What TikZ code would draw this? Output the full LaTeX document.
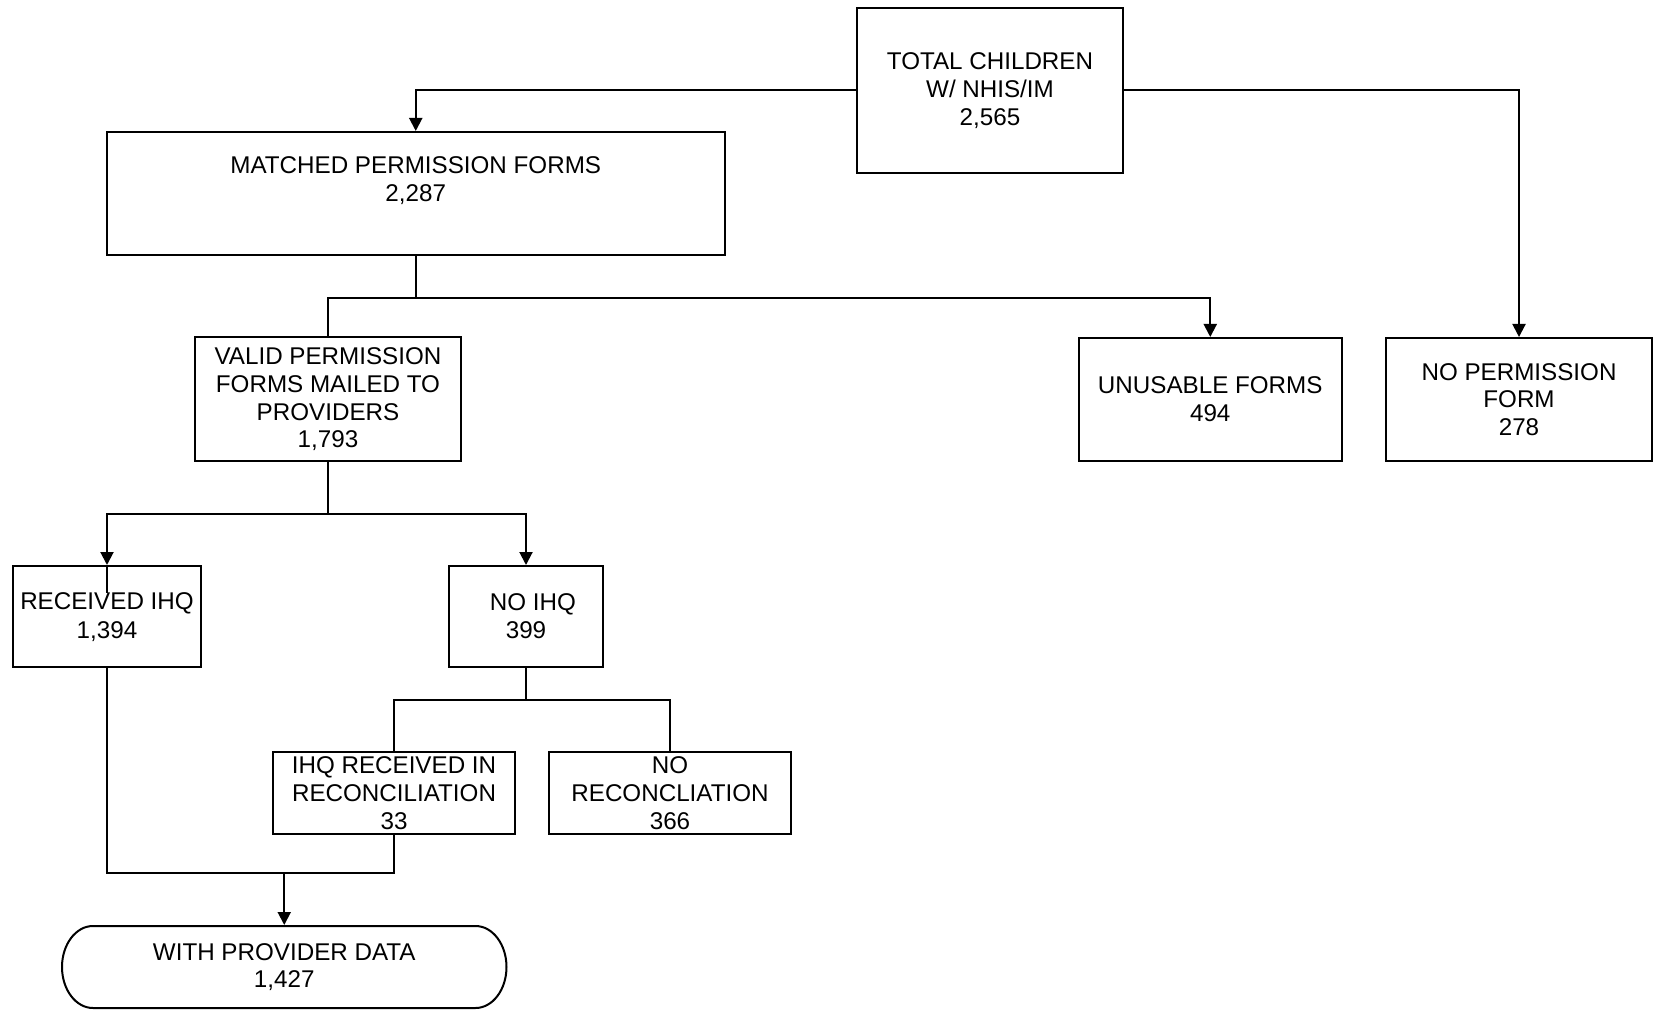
\documentclass[tikz,border=0pt]{standalone}
\usepackage{fontspec}
\setmainfont{Liberation Sans}
\usetikzlibrary{arrows.meta}
\begin{document}
\begin{tikzpicture}[x=0.5pt,y=-0.5pt,
  line width=1pt,
  box/.style 2 args={draw, line width=1pt, inner sep=0pt, align=center,
    font=\fontsize{12.1}{13.9}\selectfont,
    minimum width=#1*0.5pt, minimum height=#2*0.5pt},
  lbl/.style={align=center, inner sep=0pt, font=\fontsize{12.1}{13.9}\selectfont},
  arr/.style={-{Triangle[length=6.5pt,width=6.5pt]}},
  ln/.style={line width=1pt}]
\useasboundingbox (0,0) rectangle (1653,1010);

% boxes
\node[box={266}{165}] (total) at (990,90.5) {TOTAL CHILDREN\\W/ NHIS/IM\\2,565};
\node[box={618.5}{123}] (matched) at (415.75,193.5) {};
\node[lbl] (matchedtxt) at (415.75,181) {MATCHED PERMISSION FORMS\\2,287};
\node[box={266}{123.5}] (valid) at (328,399.25) {VALID PERMISSION\\FORMS MAILED TO\\PROVIDERS\\1,793};
\node[box={263.5}{123}] (unusable) at (1210.25,399.5) {UNUSABLE FORMS\\494};
\node[box={266}{123}] (noperm) at (1519,399.5) {NO PERMISSION\\FORM\\278};
\node[box={188}{101}] (recv) at (107,616.5) {};
\node[box={154}{101}] (noihq) at (526,616.5) {\hspace*{7pt}NO IHQ\\399};
\node[box={242}{82}] (ihqrec) at (394,793) {IHQ RECEIVED IN\\RECONCILIATION\\33};
\node[box={242}{82}] (norec) at (670,793) {NO\\RECONCLIATION\\366};
\node[inner sep=0pt, minimum width=443.5*0.5pt, minimum height=82*0.5pt] (prov) at (284.25,967) {};

% terminal outline
\draw[ln] (93,926) -- (475.5,926)
  arc[start angle=90, end angle=-90, x radius=15.5pt, y radius=20.5pt]
  -- (93,1008)
  arc[start angle=270, end angle=90, x radius=15.5pt, y radius=20.5pt] -- cycle;
\node[lbl] (provtxt) at (prov.center) {WITH PROVIDER DATA\\1,427};

% connectors
\draw[ln,arr] (total.west) -| (matched.north);
\draw[ln,arr] (total.east) -| (noperm.north);

\coordinate (j1) at (matched.south |- 0,298);
\draw[ln] (matched.south) -- (j1);
\draw[ln] (valid.north) |- (j1);
\draw[ln,arr] (j1) -| (unusable.north);

\coordinate (j2) at (valid.south |- 0,514);
\draw[ln] (valid.south) -- (j2);
\draw[ln,arr] (j2) -| (recv.north);
\draw[ln,arr] (j2) -| (noihq.north);
\draw[ln] (recv.north) -- ++(0,49);

\coordinate (j3) at (noihq.south |- 0,700);
\draw[ln] (noihq.south) -- (j3);
\draw[ln] (j3) -| (ihqrec.north);
\draw[ln] (j3) -| (norec.north);

\coordinate (j4) at (prov.north |- 0,873);
\draw[ln] (recv.south) |- (j4);
\draw[ln] (ihqrec.south) |- (j4);
\draw[ln,arr] (j4) -- (prov.north);

% received label (first line masks the line)
\node[lbl, fill=white] (recvtxt1) at (107,603.5) {RECEIVED IHQ};
\node[lbl] (recvtxt2) at (107,631.5) {1,394};
\end{tikzpicture}
\end{document}
